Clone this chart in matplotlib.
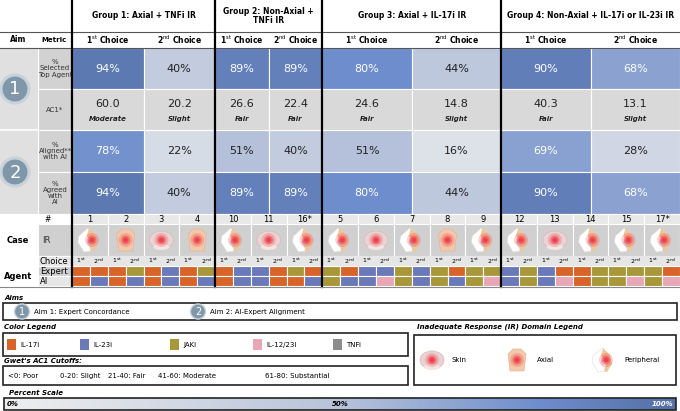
import numpy as np
import matplotlib.pyplot as plt
from matplotlib.patches import Rectangle, Circle, Ellipse, Polygon
from matplotlib.colors import LinearSegmentedColormap

# ---------------- data
groups = ["Group 1: Axial + TNFi IR", "Group 2: Non-Axial +\nTNFi IR",
          "Group 3: Axial + IL-17i IR", "Group 4: Non-Axial + IL-17i or IL-23i IR"]
group_cases = [["1", "2", "3", "4"], ["10", "11", "16*"],
               ["5", "6", "7", "8", "9"], ["12", "13", "14", "15", "17*"]]
pct_top = [94, 40, 89, 89, 80, 44, 90, 68]
ac1 = [60.0, 20.2, 26.6, 22.4, 24.6, 14.8, 40.3, 13.1]
ac1_lab = ["Moderate", "Slight", "Fair", "Fair", "Fair", "Slight", "Fair", "Slight"]
pct_aligned = [78, 22, 51, 40, 51, 16, 69, 28]
pct_agreed = [94, 40, 89, 89, 80, 44, 90, 68]
# IR domain per case: s=skin, a=axial, p=peripheral
ir_domain = ["p", "a", "s", "a", "p", "s", "p", "p", "s", "p", "a", "p",
             "p", "s", "p", "p", "p"]
# agent per case (1st, 2nd): O=IL-17i B=IL-23i J=JAKi P=IL-12/23i
expert = "OO OJ OB OJ OB BO JO JO BB JB JO JJ BJ BO OJ JJ JO".split()
ai = "OB OB OB OB OB BO OB JB BP JB JB JP BJ BP OJ JP JP".split()

agent_col = {"O": "#d8642a", "B": "#6a7ab8", "J": "#a8983a", "P": "#e8a6b6", "T": "#8c8c8c"}
cmap = LinearSegmentedColormap.from_list(
    "pct", [(0, "#efefef"), (0.5, "#b7c3da"), (0.8, "#6e8dcc"), (1, "#5670a6")])

fig = plt.figure(figsize=(6.8, 4.11), dpi=100)
ax = fig.add_axes([0, 0, 1, 1])
ax.set_xlim(0, 680)
ax.set_ylim(411, 0)
ax.axis("off")

x0 = 72
cw = (680 - x0) / 17
ncases = [len(c) for c in group_cases]
gx = [x0]
for n in ncases:
    gx.append(gx[-1] + n * cw)

rows = [48, 89, 130, 172, 214]
ST = "1$^{\\mathrm{st}}$"
ND = "2$^{\\mathrm{nd}}$"

def rect(x, y, w, h, fc, ec="white", lw=0.8):
    ax.add_patch(Rectangle((x, y), w, h, fc=fc, ec=ec, lw=lw))

# header
ax.text(18, 40, "Aim", ha="center", va="center", fontsize=5.5, weight="bold")
ax.text(54, 40, "Metric", ha="center", va="center", fontsize=5, weight="bold")
ax.plot([0, 680], [32, 32], color="#555", lw=0.8)
ax.plot([0, 680], [48, 48], color="#555", lw=0.8)
for g in range(4):
    ax.text((gx[g] + gx[g + 1]) / 2, 16, groups[g], ha="center", va="center",
            fontsize=5.5, weight="bold", linespacing=1.1)
    mid = (gx[g] + gx[g + 1]) / 2
    for k, (a, b) in enumerate([(gx[g], mid), (mid, gx[g + 1])]):
        lab = ST + " Choice" if k == 0 else ND + " Choice"
        ax.text((a + b) / 2, 40, lab, ha="center", va="center", fontsize=5.5, weight="bold")

# left columns
rect(0, 48, 38, 166, "#e0e0e0", ec="#e0e0e0")
metrics = ["%\nSelected\nTop Agent", "AC1*", "%\nAligned**\nwith AI", "%\nAgreed\nwith\nAI"]
for r in range(4):
    rect(38, rows[r], 34, rows[r + 1] - rows[r], "#d2d2d2")
    ax.text(55, (rows[r] + rows[r + 1]) / 2, metrics[r], ha="center", va="center",
            fontsize=5, color="#333", linespacing=1.0)
ax.plot([0, 38], [130, 130], color="white", lw=1.2)
for num, yy in [("1", 89), ("2", 172)]:
    ax.add_patch(Circle((15, yy), 14, fc="#7f97a8", ec="#c8d2da", lw=2.2, zorder=3))
    ax.text(15, yy + 0.5, num, ha="center", va="center", fontsize=13, color="white", zorder=4)

# value cells
for g in range(4):
    mid = (gx[g] + gx[g + 1]) / 2
    for k, (a, b) in enumerate([(gx[g], mid), (mid, gx[g + 1])]):
        i = 2 * g + k
        for r, vals in [(0, pct_top), (2, pct_aligned), (3, pct_agreed)]:
            v = vals[i]
            rect(a, rows[r], b - a, rows[r + 1] - rows[r], cmap(v / 100))
            ax.text((a + b) / 2, (rows[r] + rows[r + 1]) / 2, f"{v}%", ha="center",
                    va="center", fontsize=8, color="white" if v >= 65 else "#222")
        rect(a, rows[1], b - a, rows[2] - rows[1], "#d9d9d9")
        ax.text((a + b) / 2, 104, f"{ac1[i]:.1f}", ha="center", va="center", fontsize=8, color="#222")
        ax.text((a + b) / 2, 119, ac1_lab[i], ha="center", va="center", fontsize=5,
                weight="bold", style="italic", color="#222")

# case rows
rect(0, 214, 72, 42, "white", ec="white")
ax.text(18, 240, "Case", ha="center", va="center", fontsize=6, weight="bold")
ax.text(44, 219, "#", ha="left", va="center", fontsize=5.5)
rect(38, 224, 34, 32, "#d0d0d0")
ax.text(42, 240, "IR", ha="left", va="center", fontsize=6, color="#333")
ax.text(18, 276, "Agent", ha="center", va="center", fontsize=6, weight="bold")
rect(38, 256, 34, 10, "#e6e6e6")
rect(38, 266, 34, 10, "#d0d0d0")
rect(38, 276, 34, 10, "#e6e6e6")
for lab, yy in [("Choice", 261), ("Expert", 271), ("AI", 281)]:
    ax.text(40, yy, lab, ha="left", va="center", fontsize=6)

def ir_icon(cx, cy, kind):
    if kind == "s":
        ax.add_patch(Ellipse((cx, cy), 24, 18, fc="#ebd3d3", ec="#d8b8b8", lw=0.5))
        ax.add_patch(Ellipse((cx, cy + 7), 16, 6, fc="#f4e4e4", ec="none"))
    elif kind == "a":
        ax.add_patch(Polygon([[cx - 4, cy - 11], [cx + 4, cy - 11], [cx + 9, cy - 6],
                              [cx + 7, cy + 11], [cx - 7, cy + 11], [cx - 9, cy - 6]],
                             fc="#f3c9aa", ec="#e0b090", lw=0.4))
    else:
        ax.add_patch(Polygon([[cx - 11, cy - 4], [cx - 2, cy - 12], [cx + 4, cy - 6],
                              [cx - 3, cy + 2], [cx + 2, cy + 11], [cx - 6, cy + 12],
                              [cx - 12, cy + 2]], fc="white", ec="#ddd", lw=0.4))
        ax.add_patch(Polygon([[cx - 1, cy - 12], [cx + 6, cy - 5], [cx + 8, cy + 4],
                              [cx + 3, cy + 12], [cx, cy + 11], [cx + 3, cy + 2], [cx - 3, cy - 4]],
                             fc="#f0c79a", ec="none"))
    for rr, al in [(7, 0.25), (4.5, 0.5), (2.5, 0.9)]:
        ax.add_patch(Circle((cx + (2 if kind == "p" else 0), cy), rr, fc="#f03c46", ec="none", alpha=al))

case_labels = [c for gc in group_cases for c in gc]
for j in range(17):
    xa = x0 + j * cw
    rect(xa, 214, cw, 10, "#e8e8e8")
    ax.text(xa + cw / 2, 219, case_labels[j], ha="center", va="center", fontsize=6)
    rect(xa, 224, cw, 32, "#d0d0d0")
    ir_icon(xa + cw / 2, 240, ir_domain[j])
    for k in range(2):
        xx = xa + k * cw / 2
        rect(xx, 256, cw / 2, 10, "#e6e6e6", ec="none")
        ax.text(xx + cw / 4, 261, ST if k == 0 else ND, ha="center",
                va="center", fontsize=4.5)
        rect(xx, 266, cw / 2, 10, agent_col[expert[j][k]])
        rect(xx, 276, cw / 2, 10, agent_col[ai[j][k]])

# thick group separators
for xx in gx[:-1]:
    ax.plot([xx, xx], [0, 287], color="black", lw=1.6)
ax.plot([0, 680], [287, 287], color="#888", lw=0.8)

# ---------------- legends
def box(x, y, w, h):
    ax.add_patch(Rectangle((x, y), w, h, fc="white", ec="#222", lw=1.2))

ax.text(4, 298, "Aims", fontsize=5, weight="bold", style="italic", va="center")
box(3, 303, 674, 17)
for num, xx, lab in [("1", 22, "Aim 1: Expert Concordance"), ("2", 198, "Aim 2: AI-Expert Alignment")]:
    ax.add_patch(Circle((xx, 311.5), 7.5, fc="#7f97a8", ec="#c8d2da", lw=1))
    ax.text(xx, 312, num, ha="center", va="center", fontsize=7, color="white")
    ax.text(xx + 12, 312, lab, va="center", fontsize=5)

ax.text(4, 327, "Color Legend", fontsize=5, weight="bold", style="italic", va="center")
box(3, 333, 405, 23)
for xx, k, lab in [(7, "O", "IL-17i"), (80, "B", "IL-23i"), (170, "J", "JAKi"),
                   (253, "P", "IL-12/23i"), (333, "T", "TNFi")]:
    rect(xx, 339, 9, 11, agent_col[k], ec="none")
    ax.text(xx + 13, 344.5, lab, va="center", fontsize=5)

ax.text(4, 361, "Gwet's AC1 Cutoffs:", fontsize=5, weight="bold", style="italic", va="center")
box(3, 366, 405, 19)
for xx, lab in [(8, "<0: Poor"), (60, "0-20: Slight"), (108, "21-40: Fair"),
                (158, "41-60: Moderate"), (265, "61-80: Substantial")]:
    ax.text(xx, 375.5, lab, va="center", fontsize=5)

ax.text(417, 327, "Inadequate Response (IR) Domain Legend", fontsize=5, weight="bold",
        style="italic", va="center")
box(414, 335, 262, 50)
for xx, k, lab in [(432, "s", "Skin"), (517, "a", "Axial"), (604, "p", "Peripheral")]:
    ir_icon(xx, 360, k)
    ax.text(xx + 20, 360, lab, va="center", fontsize=5)

ax.text(9, 393, "Percent Scale", fontsize=5, weight="bold", style="italic", va="center")
grad = np.linspace(0, 1, 256)[None, :]
ax.imshow(grad, cmap=cmap, aspect="auto", extent=[4, 676, 410, 398], zorder=2)
ax.add_patch(Rectangle((4, 398), 672, 12, fc="none", ec="#222", lw=1.2, zorder=3))
ax.text(7, 404, "0%", va="center", fontsize=5, weight="bold", style="italic", zorder=4)
ax.text(340, 404, "50%", va="center", ha="center", fontsize=5, weight="bold", style="italic", zorder=4)
ax.text(673, 404, "100%", va="center", ha="right", fontsize=5, weight="bold", style="italic",
        color="white", zorder=4)

fig.savefig("out.png", dpi=100)
